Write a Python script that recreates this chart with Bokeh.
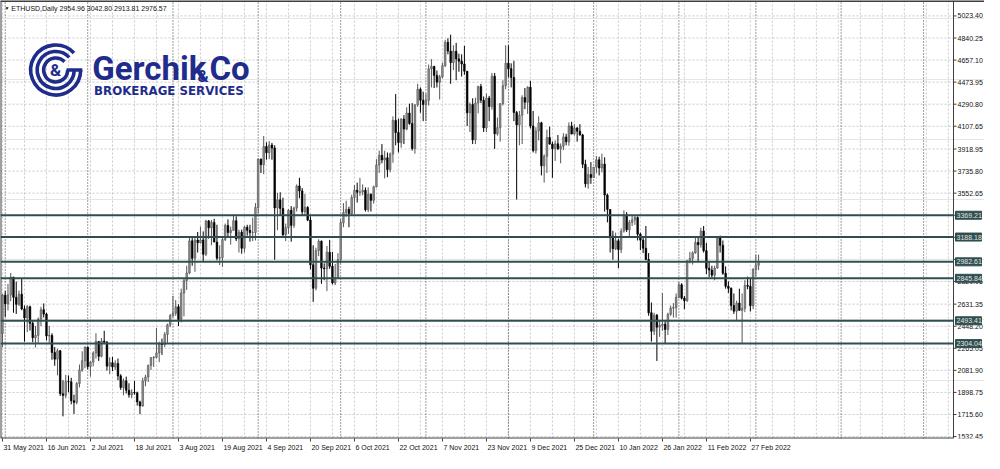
import pandas as pd
from bokeh.plotting import figure
from bokeh.models import Range1d, FixedTicker, Span, Label, ColumnDataSource
from bokeh.embed import file_html
from bokeh.resources import INLINE
from bokeh.core.properties import value

symbol_title = "ETHUSD,Daily"
start_date = "2021-05-31"

opens = [
    2388,
    2706, 2634, 2708, 2856, 2688, 2630, 2714, 2592, 2517, 2610, 2472, 2353, 2372, 2508, 2585, 2549, 2367, 2372, 2230, 2175, 2245, 1888, 1874, 1989, 1987, 1830, 1816, 1972, 2084, 2162,
    2275, 2113, 2150, 2226, 2322, 2198, 2325, 2316, 2117, 2146, 2110, 2139, 2036, 1940, 1995, 1917, 1879, 1899, 1895, 1820, 1786, 1994, 2026, 2123, 2188, 2190, 2226, 2300, 2297, 2380, 2460,
    2536, 2555, 2609, 2505, 2724, 2827, 2890, 3157, 3012, 3163, 3141, 3164, 3045, 3322, 3265, 3310, 3147, 3013, 3017, 3167, 3285, 3225, 3244, 3324, 3173, 3228, 3095, 3270, 3244, 3225, 3226,
    3433, 3835, 3789, 3940, 3888, 3952, 3927, 3430, 3497, 3426, 3208, 3266, 3410, 3285, 3429, 3612, 3571, 3398, 3434, 3329, 2958, 2763, 3077, 3154, 2931, 2926, 3063, 2946, 2807, 2850,
    3001, 3307, 3391, 3418, 3381, 3516, 3577, 3560, 3562, 3576, 3415, 3544, 3493, 3605, 3787, 3867, 3828, 3846, 3748, 3877, 4156, 4056, 3972, 4168, 4084, 4217, 4131, 3923, 4286, 4415, 4324,
    4288, 4323, 4585, 4604, 4530, 4474, 4518, 4610, 4805, 4732, 4636, 4730, 4667, 4648, 4625, 4565, 4219, 4289, 3995, 4300, 4437, 4323, 4094, 4342, 4272, 4523, 4045, 4096, 4295, 4445,
    4631, 4586, 4512, 4222, 4119, 4199, 4346, 4307, 4432, 4110, 3906, 4069, 4136, 3779, 3858, 4014, 3960, 3922, 3962, 3921, 3942, 4019, 3979, 4110, 4044, 4094, 4067, 4035, 3792, 3630, 3707,
    3682, 3769, 3829, 3761, 3794, 3537, 3417, 3196, 3091, 3157, 3084, 3238, 3372, 3249, 3310, 3331, 3350, 3212, 3163, 3095, 3002, 2560, 2406, 2540, 2440, 2455, 2465, 2421, 2547, 2598, 2603,
    2688, 2792, 2681, 2660, 2989, 3011, 3057, 3143, 3124, 3238, 3075, 2929, 2914, 2872, 2931, 3182, 3120, 2888, 2780, 2763, 2620, 2573, 2640, 2580, 2597, 2787, 2779, 2619,
    2920, 2954.96,
]
highs = [
    2715,
    2740, 2800, 2891, 2858, 2818, 2744, 2845, 2620, 2624, 2619, 2495, 2450, 2520, 2610, 2637, 2560, 2450, 2390, 2275, 2260, 2250, 2000, 2045, 2040, 2020, 1880, 1985, 2130, 2240, 2280,
    2280, 2160, 2240, 2390, 2325, 2350, 2410, 2325, 2190, 2195, 2165, 2180, 2050, 2015, 2030, 1975, 1925, 1995, 1905, 1830, 2020, 2045, 2130, 2190, 2200, 2435, 2320, 2345, 2400, 2470, 2550,
    2700, 2665, 2630, 2760, 2840, 2950, 3185, 3180, 3185, 3230, 3275, 3235, 3330, 3330, 3330, 3340, 3290, 3120, 3185, 3300, 3335, 3275, 3375, 3360, 3250, 3250, 3280, 3290, 3290, 3350, 3470,
    3840, 3840, 4027, 3975, 3985, 3970, 3950, 3555, 3560, 3515, 3300, 3420, 3445, 3440, 3625, 3680, 3595, 3545, 3445, 3360, 3120, 3100, 3170, 3160, 2970, 3115, 3165, 3065, 2965, 3055,
    3335, 3470, 3490, 3440, 3540, 3620, 3640, 3680, 3625, 3600, 3600, 3550, 3615, 3835, 3905, 3960, 3905, 3890, 3890, 4190, 4375, 4170, 4175, 4200, 4265, 4295, 4300, 4290, 4460, 4430, 4395,
    4380, 4620, 4665, 4610, 4570, 4535, 4636, 4825, 4838, 4868, 4780, 4800, 4710, 4705, 4775, 4565, 4305, 4340, 4345, 4445, 4460, 4355, 4380, 4360, 4550, 4550, 4180, 4300, 4490, 4780,
    4778, 4630, 4650, 4235, 4235, 4365, 4425, 4440, 4485, 4235, 4100, 4190, 4145, 3875, 4080, 4105, 3980, 3990, 4035, 3965, 4050, 4045, 4140, 4145, 4125, 4100, 4125, 4045, 3830, 3770, 3810,
    3770, 3860, 3855, 3880, 3850, 3550, 3420, 3240, 3225, 3175, 3260, 3410, 3395, 3330, 3365, 3365, 3360, 3225, 3185, 3280, 3055, 2645, 2560, 2550, 2500, 2725, 2500, 2560, 2620, 2640, 2720,
    2815, 2805, 2700, 3000, 3065, 3070, 3180, 3185, 3265, 3280, 3140, 2990, 2950, 2950, 3195, 3200, 3160, 2945, 2820, 2770, 2720, 2660, 2760, 2720, 2830, 2860, 2840, 2930,
    3040, 3042.80,
]
lows = [
    2273,
    2525, 2579, 2655, 2560, 2550, 2616, 2581, 2320, 2400, 2412, 2315, 2272, 2304, 2450, 2520, 2330, 2310, 2170, 2120, 2040, 1870, 1700, 1850, 1900, 1800, 1720, 1800, 1940, 2070, 2100,
    2090, 2030, 2115, 2180, 2160, 2190, 2300, 2080, 2050, 2075, 2085, 2000, 1920, 1875, 1890, 1855, 1850, 1880, 1790, 1718, 1780, 1950, 1985, 2085, 2110, 2180, 2150, 2210, 2275, 2310, 2440,
    2520, 2535, 2450, 2480, 2530, 2750, 2880, 2950, 2900, 3060, 3135, 2990, 3030, 3175, 3120, 3145, 2995, 2955, 2940, 3155, 3185, 3125, 3240, 3155, 3060, 3050, 3060, 3200, 3150, 3155, 3160,
    3385, 3720, 3710, 3830, 3835, 3830, 3000, 3245, 3370, 3180, 3155, 3215, 3150, 3265, 3400, 3510, 3370, 3375, 3320, 2920, 2650, 2745, 3030, 2800, 2830, 2740, 2925, 2795, 2790, 2845,
    2970, 3270, 3355, 3270, 3370, 3380, 3475, 3530, 3535, 3400, 3395, 3400, 3465, 3600, 3720, 3800, 3675, 3685, 3725, 3805, 3950, 3890, 3930, 3960, 4075, 4120, 3905, 3880, 4270, 4220, 4150,
    4150, 4280, 4430, 4425, 4430, 4330, 4505, 4600, 4705, 4460, 4575, 4490, 4560, 4520, 4535, 4110, 4060, 3960, 3960, 4215, 4300, 4060, 4060, 4150, 4245, 3920, 4030, 3980, 4280, 4415,
    4515, 4430, 4150, 3500, 3950, 3960, 4250, 4210, 4090, 3890, 3880, 3990, 3700, 3640, 3720, 3955, 3680, 3820, 3910, 3800, 3910, 3950, 3945, 4040, 4030, 3980, 4030, 3760, 3600, 3590, 3630,
    3680, 3720, 3700, 3725, 3400, 3310, 3060, 3000, 3080, 2930, 3055, 3225, 3230, 3185, 3280, 3290, 3160, 3080, 3055, 2995, 2535, 2320, 2375, 2160, 2360, 2410, 2300, 2375, 2535, 2520, 2520,
    2680, 2670, 2590, 2650, 2970, 2960, 3050, 2980, 3100, 3060, 2880, 2855, 2850, 2830, 2925, 3060, 2875, 2760, 2725, 2580, 2550, 2500, 2575, 2300, 2565, 2755, 2570, 2590,
    2860, 2913.81,
]
closes = [
    2706,
    2634, 2708, 2856, 2688, 2630, 2714, 2592, 2517, 2610, 2472, 2353, 2372, 2508, 2585, 2549, 2367, 2372, 2230, 2175, 2245, 1888, 1874, 1989, 1987, 1830, 1816, 1972, 2084, 2162, 2275,
    2113, 2150, 2226, 2322, 2198, 2325, 2316, 2117, 2146, 2110, 2139, 2036, 1940, 1995, 1917, 1879, 1899, 1895, 1820, 1786, 1994, 2026, 2123, 2188, 2190, 2226, 2300, 2297, 2380, 2460, 2536,
    2555, 2609, 2505, 2724, 2827, 2890, 3157, 3012, 3163, 3141, 3164, 3045, 3322, 3265, 3310, 3147, 3013, 3017, 3167, 3285, 3225, 3244, 3324, 3173, 3228, 3095, 3270, 3244, 3225, 3226, 3433,
    3835, 3789, 3940, 3888, 3952, 3927, 3430, 3497, 3426, 3208, 3266, 3410, 3285, 3429, 3612, 3571, 3398, 3434, 3329, 2958, 2763, 3077, 3154, 2931, 2926, 3063, 2946, 2807, 2850, 3001,
    3307, 3391, 3418, 3381, 3516, 3577, 3560, 3562, 3576, 3415, 3544, 3493, 3605, 3787, 3867, 3828, 3846, 3748, 3877, 4156, 4056, 3972, 4168, 4084, 4217, 4131, 3923, 4286, 4415, 4324, 4288,
    4323, 4585, 4604, 4530, 4474, 4518, 4610, 4805, 4732, 4636, 4730, 4667, 4648, 4625, 4565, 4219, 4289, 3995, 4300, 4437, 4323, 4094, 4342, 4272, 4523, 4045, 4096, 4295, 4445, 4631,
    4586, 4512, 4222, 4119, 4199, 4346, 4307, 4432, 4110, 3906, 4069, 4136, 3779, 3858, 4014, 3960, 3922, 3962, 3921, 3942, 4019, 3979, 4110, 4044, 4094, 4067, 4035, 3792, 3630, 3707, 3682,
    3769, 3829, 3761, 3794, 3537, 3417, 3196, 3091, 3157, 3084, 3238, 3372, 3249, 3310, 3331, 3350, 3212, 3163, 3095, 3002, 2560, 2406, 2540, 2440, 2455, 2465, 2421, 2547, 2598, 2603, 2688,
    2792, 2681, 2660, 2989, 3011, 3057, 3143, 3124, 3238, 3075, 2929, 2914, 2872, 2931, 3182, 3120, 2888, 2780, 2763, 2620, 2573, 2640, 2580, 2597, 2787, 2779, 2619, 2920,
    2955, 2976.57,
]

levels = [3369.21, 3188.18, 2982.61, 2845.84, 2493.41, 2304.04]
price_ticks = [5023.40, 4840.25, 4657.10, 4473.95, 4290.80, 4107.65, 3918.95, 3735.80,
               3552.65, 3369.50, 3186.35, 3003.20, 2820.05, 2631.35, 2448.20, 2265.05,
               2081.90, 1898.75, 1715.60, 1532.45]
hidden_ticks = [3369.50, 3186.35, 3003.20]   # covered by level tags on the price scale

# ---------------------------------------------------------------------------
n = min(len(opens), len(highs), len(lows), len(closes))
dates = pd.date_range(start_date, periods=n, freq="D")
idx = list(range(n))

W, H = 984, 453
X0 = -0.72                    # left edge of the chart
XA = X0 + 967 / 2.79          # price-scale line (right edge of the plotting area)
CHART_W = 953                 # pixels between X0 and XA
px_per_day = CHART_W / (XA - X0)
X1 = X0 + W / px_per_day
Y1 = 5023.4 + 16 * 8.007      # top of chart
Y0 = 5023.4 - 438 * 8.007     # bottom of chart

def xd(px):                   # reference pixel -> data x
    return X0 + px / 2.79

def yd(py):                   # reference pixel -> data y
    return 5023.4 - (py - 16) * 8.007

FONT = "Liberation Sans"
BLUE = "#1f2c8c"
GRID = "#c9c9c9"
EDGE = "#404040"
LEVEL = "#2f4f4f"

p = figure(width=W, height=H, x_range=Range1d(X0, X1), y_range=Range1d(Y0, Y1),
           y_axis_location=None, toolbar_location=None, output_backend="svg",
           min_border_left=0, min_border_top=0, min_border_right=0, min_border_bottom=11,
           background_fill_color="white", border_fill_color="white")
p.outline_line_color = None
p.xgrid.visible = False

# x axis: labels start at the tick (MT4 style)
char_w = {" ": 0.278, "M": 0.833, "J": 0.5, "A": 0.667, "S": 0.667, "O": 0.778, "N": 0.722,
          "D": 0.722, "F": 0.611, "y": 0.5, "v": 0.5, "c": 0.5, "r": 0.333, "t": 0.278,
          "l": 0.222}
label_idx = list(range(0, n, 16))
labels = [f"{dates[i].day} {dates[i].strftime('%b %Y')}" for i in label_idx]
shifted = []
for i, lab in zip(label_idx, labels):
    wpx = 7 * sum(char_w.get(ch, 0.556) for ch in lab)
    shifted.append(round(i + (wpx / 2 + 1) / px_per_day, 3))
p.xaxis.ticker = FixedTicker(ticks=shifted, minor_ticks=label_idx)
p.xaxis.major_label_overrides = {s: lab for s, lab in zip(shifted, labels)}
p.xaxis.major_tick_line_color = None
p.xaxis.major_tick_out = 0
p.xaxis.major_tick_in = 0
p.xaxis.minor_tick_out = 3
p.xaxis.minor_tick_in = 0
p.xaxis.minor_tick_line_color = EDGE
p.xaxis.axis_line_color = None
p.xaxis.major_label_text_font = FONT
p.xaxis.major_label_text_font_size = "7px"
p.xaxis.major_label_text_color = "#111111"
p.xaxis.major_label_standoff = 2

# grid
vgrid = list(range(0, int(XA) + 1, 8))
p.segment(x0=vgrid, y0=[Y0] * len(vgrid), x1=vgrid, y1=[Y1] * len(vgrid),
          line_color=GRID, line_dash="2 2", line_width=1, level="underlay")
p.segment(x0=[X0] * len(price_ticks), y0=price_ticks, x1=[XA] * len(price_ticks),
          y1=price_ticks, line_color=GRID, line_dash="2 2", line_width=1, level="underlay")
future = pd.date_range(start_date, periods=int(XA) + 1, freq="D")
months = [i for i, d in enumerate(future) if d.day == 1]
p.segment(x0=months, y0=[Y0] * len(months), x1=months, y1=[Y1] * len(months),
          line_color="#3a3a3a", line_dash="1 2", line_width=1, level="underlay")

# candles
bull = [closes[i] >= opens[i] for i in idx]
src = ColumnDataSource(dict(
    x=idx, h=highs[:n], l=lows[:n],
    top=[max(opens[i], closes[i]) for i in idx],
    bot=[min(opens[i], closes[i]) for i in idx],
    fill=["#8e8e8e" if b else "#000000" for b in bull],
    line=["#555555" if b else "#000000" for b in bull],
))
p.segment(x0="x", y0="l", x1="x", y1="h", line_color="line", line_width=1, source=src)
p.vbar(x="x", width=0.6, top="top", bottom="bot", fill_color="fill", line_color="line",
       line_width=0.6, source=src)

# horizontal levels
p.segment(x0=[X0] * len(levels), y0=levels, x1=[XA] * len(levels), y1=levels,
          line_color=LEVEL, line_width=2)

# frame edges and price scale
p.add_layout(Span(location=Y1, dimension="width", line_color=EDGE, line_width=3))
p.add_layout(Span(location=X0, dimension="height", line_color=EDGE, line_width=2))
p.add_layout(Span(location=XA, dimension="height", line_color=EDGE, line_width=1))
p.segment(x0=[X0], y0=[Y0], x1=[XA], y1=[Y0], line_color=EDGE, line_width=2)
p.segment(x0=[XA] * len(price_ticks), y0=price_ticks,
          x1=[XA + 3 / px_per_day] * len(price_ticks), y1=price_ticks,
          line_color=EDGE, line_width=1)
shown = [t for t in price_ticks if t not in hidden_ticks]
p.text(x=[XA + 4 / px_per_day] * len(shown), y=shown,
       text=[f"{t:.2f}" for t in shown], text_font=value(FONT),
       text_font_size="7px", text_color="#111111", text_baseline="middle",
       text_align="left")
# level tags on the price scale (drawn after the scale labels so they cover them)
p.rect(x=[XA + 15 / px_per_day] * len(levels), y=levels, width=26, height=8,
       width_units="screen", height_units="screen", fill_color=LEVEL, line_color=LEVEL)
p.text(x=[XA + 3 / px_per_day] * len(levels), y=levels,
       text=[f"{lv:.2f}" for lv in levels], text_font=value(FONT),
       text_font_size="7px", text_color="#e4e4e4", text_baseline="middle",
       text_align="left")

# header
header = f"{symbol_title}  {opens[n-1]:.2f} {highs[n-1]:.2f} {lows[n-1]:.2f} {closes[n-1]:.2f}"
p.add_layout(Label(x=xd(4), y=yd(8), text="\u25bc", text_font=FONT, text_font_size="5px",
                   text_color="#111111", text_baseline="middle"))
p.add_layout(Label(x=xd(11), y=yd(8), text=header, text_font=FONT, text_font_size="7px",
                   text_color="#111111", text_baseline="middle"))

# logo
cx, cy = xd(56), yd(72)
for r in (25, 18.5, 12):
    p.arc(x=[cx], y=[cy], radius=r, radius_units="screen", start_angle=0.75,
          end_angle=6.2832, direction="anticlock", line_color=BLUE, line_width=3.6)
p.segment(x0=[xd(56 + 11)], y0=[cy], x1=[xd(56 + 27)], y1=[cy], line_color=BLUE,
          line_width=3.6)
p.add_layout(Label(x=cx, y=cy, text="&", text_font="Roboto", text_font_style="bold",
                   text_font_size="17px", text_color=BLUE, text_align="center",
                   text_baseline="middle"))
p.add_layout(Label(x=xd(93), y=yd(71), text="Gerchik", text_font="Roboto",
                   text_font_style="bold", text_font_size="33px", text_color=BLUE,
                   text_baseline="middle"))
p.add_layout(Label(x=xd(200), y=yd(78), text="&", text_font="Roboto",
                   text_font_style="bold", text_font_size="17px", text_color=BLUE,
                   text_baseline="middle"))
p.add_layout(Label(x=xd(212), y=yd(71), text="Co", text_font="Roboto",
                   text_font_style="bold", text_font_size="33px", text_color=BLUE,
                   text_baseline="middle"))
p.add_layout(Label(x=xd(95), y=yd(94), text="BROKERAGE SERVICES", text_font="DejaVu Sans",
                   text_font_style="bold", text_font_size="11.8px", text_color=BLUE,
                   text_baseline="middle"))

open("out.html", "w").write(file_html(p, INLINE))
